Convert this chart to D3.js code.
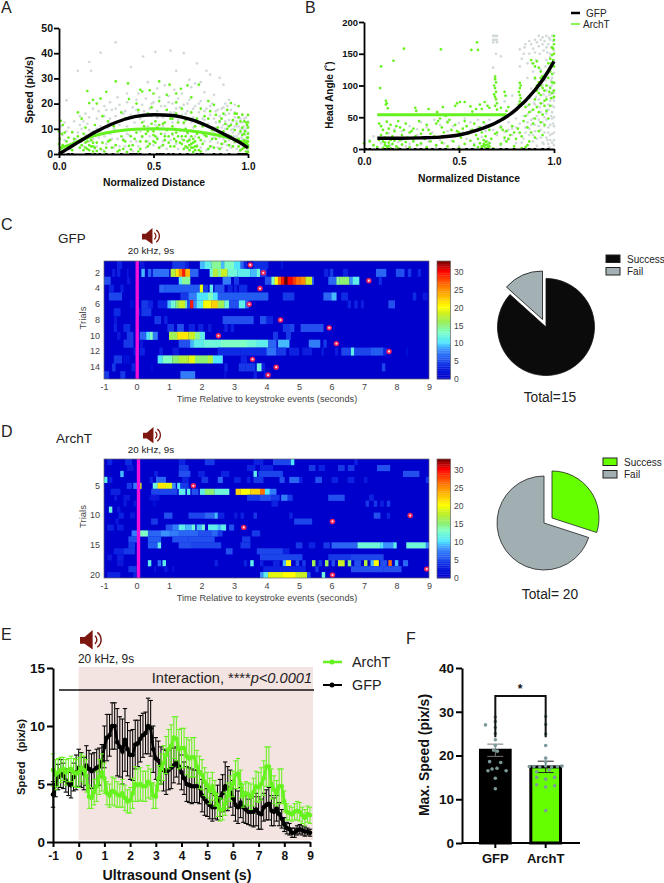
<!DOCTYPE html>
<html>
<head>
<meta charset="utf-8">
<script src="https://cdn.jsdelivr.net/npm/d3@7"></script>
<style>
html, body { margin: 0; padding: 0; background: #fff; }
svg { display: block; font-family: "Liberation Sans", Arial, sans-serif; }
</style>
</head>
<body>
<div id="chart"></div>
<script>
// panel A, speed vs normalized distance
var speedFitGfp = [[0,0],[.05,2.3],[.1,4.6],[.2,9],[.3,12.5],[.4,14.8],[.5,15.6],[.6,15.3],[.7,13.6],[.8,10.6],[.9,6.8],[.96,4.4],[1,2.4]];
var speedFitArch = [[0,2.2],[.05,3.4],[.1,5],[.2,7.5],[.3,9],[.4,9.8],[.5,10],[.6,9.8],[.7,9.1],[.8,8],[.9,6.4],[1,4]];
var speedGray = [[.3,44.3],[.22,40.2],[.445,38.7],[.51,40.5],[.59,41],[.66,40],[.73,36],[.16,36.5],[.1,33],[.17,33],[.38,34.5],[.62,33],[.78,33],[.8,31.5],[.85,30.2],[.87,27.5],[.69,29.5],[.72,28],[.75,28.5],[.04,21.3],
[.47,28.5],[.52,26],[.56,27.2],[.61,25.5],[.65,24],[.7,26.5],[.77,24.5],[.82,23.5],[.9,21.5],[.93,19.5],[.88,20],[.42,24],[.36,24],[.31,22.5],[.27,20.5],[.24,19],[.18,18],[.14,16],[.11,15],[.08,13],[.03,12.5],[.01,11],[.05,10.5],[.02,7.5],[.07,8.5],[.09,6],
[.12,10],[.15,12],[.17,8.5],[.2,14],[.22,11],[.24,15],[.26,12.5],[.28,17.5],[.3,15],[.32,19.5],[.33,13.5],[.35,17],[.36,20.5],[.38,15.5],[.39,18.5],[.41,21.5],[.42,16.5],[.44,19.5],[.45,13],[.46,22],[.48,18],[.49,15],[.5,20.5],[.52,17],[.53,22.5],[.55,14.5],[.56,19],[.58,23],[.59,16.5],[.6,20],[.62,18],[.63,22],[.65,15.5],[.66,19.5],[.68,17],[.69,21.5],[.71,14.5],[.72,19],[.74,16.5],[.75,21],[.77,13.5],[.78,18],[.8,15.5],[.81,20],[.83,12.5],[.84,17.5],[.86,14],[.87,18.5],[.89,11.5],[.9,16],[.92,13],[.93,16.5],[.95,11],[.96,14],[.98,9.5],[.99,12.5],
[.13,3],[.16,5],[.19,2],[.21,6.5],[.23,1.5],[.25,4],[.27,8],[.29,2.5],[.31,6],[.33,9.5],[.35,3],[.37,7.5],[.39,1.2],[.41,5],[.43,9],[.46,2.5],[.48,7],[.5,3.5],[.53,10],[.55,5],[.57,2],[.6,7.5],[.62,4],[.64,9.5],[.67,2.5],[.69,6],[.71,10.5],[.73,3.5],[.76,8],[.78,1.5],[.8,5],[.82,9],[.84,2.5],[.85,6.5],[.86,10.5],[.87,4],[.88,8],[.89,1.5],[.9,5.5],[.91,9.5],[.92,3],[.925,7],[.93,11],[.94,2],[.945,5],[.95,8],[.955,1],[.96,4],[.965,6.5],[.97,10],[.975,2.5],[.98,5.5],[.985,7.5],[.99,3.5],[.995,6],[1,1.5],[1,8.5],[.97,12.5],[.94,13],[.91,12],[.88,13],[.85,12.5],
[.02,3],[.03,5.5],[.04,9],[.06,2],[.08,5],[.1,8.5],[.11,11.5],[.13,13],[.16,14.5],[.18,6],[.2,10],[.21,17],[.23,8],[.25,17.5],[.27,14],[.29,10],[.3,18],[.32,11.5],[.34,16],[.36,11],[.37,14.5],[.4,12.5],[.41,17.5],[.43,14],[.45,17],[.47,11],[.49,20],[.51,11.5],[.52,14.5],[.54,19],[.55,11],[.57,15.5],[.58,20.5],[.6,12.5],[.61,16.5],[.63,13.5],[.64,18.5],[.66,12],[.67,16],[.68,20],[.7,12.5],[.71,18],[.73,12.5],[.74,20],[.76,14],[.77,17],[.79,12],[.8,19],[.82,14],[.83,17],[.85,15],[.86,18],[.87,11.5],[.88,15.5],[.89,19],[.9,13.5],[.91,17.5],[.92,10],[.93,14.5],[.94,11],[.95,14.5],[.96,10],[.96,12.5],[.97,8],[.98,11],[.98,14],[.99,10],[.99,14.5],[1,11],[1,13],[.97,6],[.96,8.5],[.94,7],[.93,4.5],[.92,8.5],[.91,2.5],[.9,7.5],[.89,3.5],[.88,10],[.87,6],[.86,2.5],[.85,8.5],[.84,4.5],[.83,10.5],[.82,6.5],[.81,3],[.79,8],[.77,5],[.75,2.5],[.72,7],[.7,4],[.68,8],[.65,6],[.63,2],[.61,10],[.59,5.5],[.56,8],[.54,3],[.52,6.5],[.49,9.5],[.47,5],[.44,6.5],[.42,3],[.4,9.5],[.38,5],[.36,8],[.34,6],[.32,3],[.3,9.5],[.28,6],[.26,10.5],[.24,7],[.22,9],[.2,3],[.18,9],[.16,9.5],[.14,7.5],[.12,5]];
var speedArch = [[.3,28.8],[.365,28],[.53,28.8],[.585,27.5],[.15,25],[.43,25.5],[.44,24.8],[.48,25.3],[.5,24],[.25,24.7],[.62,24],[.645,25.9],[.68,27.2],[.74,27.5],[.7,22.5],[.22,22],[.18,21.5],[.2,20],[.16,20.2],[.57,23.5],[.37,21.8],[.41,20],[.53,21],[.62,20.5],[.79,21],[.82,19.5],[.91,20.2],[.95,19],[.94,16],[.97,15.6],[1,15.5],[.99,12.5],[.97,10.5],[.1,16.5],[.01,13.2],[.02,11.5],[0,9],[.03,8.5],[.07,8.7],[.05,6.5],
[.12,14],[.14,10.5],[.19,11.5],[.23,15],[.26,13],[.29,11],[.33,16.5],[.35,14],[.39,14.5],[.42,17.5],[.44,12.5],[.47,16],[.49,18.5],[.51,13],[.54,15.5],[.57,17.5],[.59,14],[.62,16],[.65,18],[.67,13.5],[.7,16.5],[.73,14],[.75,18],[.77,15],[.8,17],[.83,15.5],[.85,13],[.87,16],[.89,17.5],[.92,13.5],[.95,14.5],[.9,11],[.84,10.5],[.78,11.5],[.72,11],
[.09,4],[.11,2.5],[.12,6],[.13,1.5],[.14,4.5],[.15,7],[.15,2],[.16,3.5],[.17,5.5],[.18,1],[.18,3],[.19,7.5],[.2,4.5],[.22,2],[.24,1],[.26,5],[.28,2.5],[.31,1],[.33,7],[.34,2],[.35,5],[.36,.8],[.37,3.2],[.38,1.8],[.4,6],[.41,8.5],[.43,2],[.44,7],[.45,11],[.46,5],[.47,9],[.48,4],[.49,12],[.5,7.5],[.51,4.5],[.52,10.5],[.53,2.5],[.54,8],[.55,12],[.56,5.5],[.57,9.5],[.58,7],[.59,3],[.6,11],[.61,6],[.62,8.5],[.63,12.5],[.64,4.5],[.65,7],[.66,2],[.67,10],[.68,5],[.69,3.5],[.69,1.5],[.7,7],[.7,2.5],[.71,4.5],[.71,.8],[.72,3],[.73,8],[.74,1.5],[.75,5.5],[.76,11],[.78,7],[.8,3],[.81,9.5],[.83,6],[.85,2],[.86,8.5],[.88,5],[.89,10],[.91,7],[.92,3],[.93,9.5],[.95,6],[.96,1.5],[.97,4],[.97,7.5],[.98,2.5],[.98,5.5],[.985,9],[.99,1],[.99,3.5],[.995,6.5],[1,.8],[1,2.5],[1,5],[1,8],[1,10.5],[.995,11.5],[.98,13],
[0,4],[.005,6],[.01,2],[.015,8],[.02,3.5],[.03,1.5],[.04,5],[.06,3],[.07,1.5],[.08,6],[.1,7],[.11,5],[.12,3.5],[.13,8],[.14,2.5],[.15,5],[.16,1.5],[.17,3],[.17,7],[.18,4.5],[.19,2.5],[.2,1.2],[.21,9],[.23,4.5],[.25,2.5],[.27,5.5],[.3,3.5],[.32,1.5],[.34,5.5],[.38,7],[.39,3.5],[.42,1],[.43,5],[.46,8],[.47,3],[.5,5],[.5,9],[.51,7],[.52,6],[.53,11.5],[.55,3.5],[.56,7],[.58,4.5],[.6,8],[.61,3],[.62,5],[.63,7],[.64,9.5],[.65,4],[.66,5.5],[.67,3],[.67,7],[.68,2.5],[.68,8.5],[.69,5.5],[.7,4],[.71,2.5],[.71,6],[.72,1.5],[.72,5],[.73,3],[.74,6.5],[.75,1],[.76,4],[.77,7.5],[.79,2],[.81,6],[.82,2.5],[.84,7.5],[.86,4],[.87,9],[.88,12],[.9,3.5],[.91,11.5],[.93,5],[.94,12],[.95,3],[.96,9],[.97,2],[.98,8],[.99,5],[1,3.5],[1,6.5],[1,12.5],[.96,13],[.93,16],[.86,14],[.79,14],[.74,12.5],[.66,12.5],[.6,14],[.56,12.5]];
var speedBaseline = [.05,.07,.145,.15,.16,.165,.19,.215,.25,.285,.33,.38,.395,.41,.43,.48,.52,.535,.55,.58,.605,.64,.68,.73,.75,.76,.82,.855,.9,.95,.96,.975,.99];

// panel B, head angle vs normalized distance
var angleFitGfp = [[.07,17],[.2,17],[.3,17.5],[.4,18.7],[.5,22],[.6,30],[.7,42],[.8,62],[.9,93],[.95,113],[1,138]];
var angleFitArch = [[.07,54],[.3,54],[.5,54],[.75,54]];
var angleGray = [[.68,178],[.69,178],[.7,178],[.68,172],[.69,172],[.7,172],[.68,168],[.7,168],[.72,146],[.68,128],[.695,150],[.82,157],[.84,150],[.83,142],[.85,165],[.87,170],[.88,165],[.89,158],[.9,172],[.91,168],[.92,178],[.93,172],[.94,176],[.95,170],[.96,178],[.97,165],[.98,172],[.99,178],[.985,160],[.965,152],[.945,155],[.925,150],[.905,140],[.885,135],[.96,140],[.98,145],[.99,130],[1,155],[1,170],[.93,125],[.95,118],[.97,122],[.99,112],[.9,110],[.86,112],[.88,95],[.92,95],[.94,100],[.96,92],[.98,98],[1,105],[.78,84],[.74,75],
[.13,25],[.16,31],[.2,28],[.24,36],[.28,31],[.3,42],[.33,34],[.37,46],[.4,38],[.44,44],[.47,36],[.5,41],[.53,48],[.56,42],[.6,46],[.64,38],[.66,46],[.7,44],[.73,50],[.76,42],[.8,48],[.84,52],[.88,60],[.9,70],[.92,78],[.94,72],[.96,82],[.98,76],[1,88],[.86,42],[.89,48],[.91,52],[.93,58],[.95,50],[.97,62],[.99,58],[1,66],[.03,14],[.05,20],[.09,9],[.11,16],
[.14,6],[.18,11],[.22,4],[.26,14],[.3,7],[.34,12],[.38,3],[.42,9],[.46,13],[.5,5],[.54,16],[.58,8],[.62,19],[.66,11],[.7,22],[.72,6],[.74,27],[.76,15],[.78,32],[.8,9],[.82,25],[.84,16],[.85,34],[.86,6],[.87,22],[.88,38],[.89,12],[.9,28],[.91,5],[.92,36],[.93,18],[.94,42],[.945,8],[.95,26],[.96,46],[.965,14],[.97,34],[.975,3],[.98,22],[.985,52],[.99,10],[.995,40],[1,26],[1,6],
[.17,2],[.2,14],[.24,8],[.28,22],[.32,18],[.36,26],[.4,14],[.44,28],[.48,20],[.52,26],[.56,30],[.6,34],[.64,28],[.68,30],[.72,36],[.74,14],[.76,30],[.78,22],[.8,34],[.82,40],[.83,10],[.85,26],[.86,54],[.87,32],[.88,46],[.89,22],[.9,38],[.91,16],[.92,46],[.93,30],[.94,10],[.95,36],[.96,18],[.96,56],[.97,8],[.97,26],[.97,70],[.98,14],[.98,38],[.98,86],[.99,24],[.99,48],[.99,68],[.99,100],[1,14],[1,36],[1,50],[1,76],[1,120],[1,140],[.995,80],[.995,92],[.985,108],[.975,85],[.965,100],[.955,108],[.945,86],[.935,110],[.925,66],[.915,100],[.905,82],[.895,72],[.875,80],[.86,68],[.845,160],[.82,130],[.9,152],[.92,162],[.94,165],[.96,160],[.98,150],[.995,170],[.975,175],[.955,130],[.89,122],[.87,150],[.86,135]];
var angleArch = [[.21,158],[.405,157],[.595,168],[.565,156],[.6,156],[.155,139],[.09,130],[.085,96],[.115,76],[.12,72],[.115,70],[.125,64],[.27,65],[.275,60],[.34,63],[.385,58],[.415,66],[.49,72],[.505,74],[.53,74],[.48,68],[.56,67],[.59,63],[.61,70],[.635,74],[.65,68],[.62,63],[.57,59],[.66,65],
[.69,114],[.69,110],[.695,105],[.685,100],[.69,96],[.695,90],[.685,86],[.69,82],[.695,78],[.7,72],[.69,68],[.7,62],[.74,90],[.745,84],[.72,65],[.75,60],[.76,66],[.82,104],[.825,100],[.82,96],[.815,90],[.82,85],[.825,80],[.82,75],[.815,70],[.84,72],[.85,66],[.87,70],
[.88,140],[.89,135],[.9,130],[.91,138],[.92,128],[.93,122],[.94,115],[.9,112],[.92,105],[.93,100],[.94,108],[.91,92],[.93,85],[.95,92],[.96,100],[.97,112],[.98,122],[.985,135],[.99,148],[.995,158],[1,165],[1,172],[1,178],[.995,140],[.99,118],[.98,96],[.99,88],[1,104],[1,82],[.96,78],[.95,68],[.93,72],[.91,66],[.92,58],[.94,54],[.96,60],[.97,48],[.98,68],[.89,62],[.9,48],[.93,42],[.95,38],[.92,28],[.94,22],[.9,18],[.87,12],[.86,6],[.85,3],
[.08,40],[.09,36],[.1,30],[.12,43],[.12,25],[.14,38],[.16,28],[.18,44],[.19,34],[.2,22],[.22,40],[.24,26],[.26,32],[.29,44],[.31,30],[.33,38],[.35,24],[.38,40],[.4,48],[.41,34],[.43,52],[.44,42],[.46,30],[.48,38],[.5,26],[.52,32],[.54,36],[.57,30],[.59,22],[.61,34],[.63,42],[.66,30],[.68,38],[.7,26],[.72,34],[.74,18],[.75,28],[.77,22],[.78,36],[.8,16],[.82,26],[.84,44],[.86,34],[.88,26],
[0,9],[.03,12],[.05,6],[.07,3],[.08,14],[.1,2],[.11,10],[.13,5],[.14,1],[.15,8],[.16,13],[.17,4],[.18,1.5],[.2,7],[.22,11],[.24,3],[.26,12],[.28,6],[.3,9],[.33,3],[.35,12],[.38,6],[.41,10],[.44,4],[.47,12],[.5,2],[.53,8],[.56,13],[.58,6],[.6,3],[.61,9],[.62,1.5],[.63,5],[.64,11],[.64,2],[.65,7],[.65,1],[.66,4],[.68,1],[.72,8],[.75,12],[.79,4],[.83,1.5],
[.09,22],[.11,18],[.13,32],[.15,20],[.17,36],[.19,14],[.21,30],[.23,18],[.25,28],[.27,20],[.3,24],[.32,16],[.34,30],[.37,20],[.39,44],[.42,26],[.45,46],[.46,20],[.49,28],[.51,18],[.53,44],[.55,24],[.58,40],[.6,16],[.62,26],[.64,20],[.67,16],[.69,24],[.71,44],[.73,30],[.76,16],[.79,26],[.81,32],[.83,20],[.85,52],[.87,58],[.89,40],[.9,78],[.91,100],[.92,88],[.93,112],[.94,96],[.95,76],[.96,120],[.97,135],[.975,90],[.98,142],[.985,80],[.99,105],[.99,160],[1,130],[1,150],[1,92],[.62,4],[.63,8],[.63,14],[.64,6],[.645,12],[.655,3],[.66,9],[.12,4],[.13,10],[.125,1],[.14,14],[.11,6],[.1,12]];
var angleBaseline = [.01,.03,.07,.11,.13,.15,.19,.23,.27,.3,.33,.36,.4,.43,.47,.5,.54,.57,.62,.65,.68,.72,.75,.79,.84,.87,.9,.94,.97];

// panels C and D: [from s, to s, speed] per trial
var trialsGfp = [
 [[-.6,-.45,3],[.1,.25,2],[1.1,1.5,4],[1.5,1.6,3],[1.95,2.1,9],[2.1,2.3,11],[2.3,2.6,14],[2.6,2.7,9],[2.7,3,13],[3,3.2,10],[3.2,3.3,6],[3.3,3.4,3],[3.6,4.05,3.5],[4.45,4.5,2]],
 [[-.75,-.65,2.5],[-.6,-.5,3],[-.3,-.25,2],[.15,.25,9],[.35,.45,6],[.5,1,6.5],[1.05,1.2,17],[1.2,1.3,21],[1.3,1.4,25],[1.4,1.5,29],[1.5,1.65,23],[1.65,1.9,6],[2.25,2.35,12],[2.35,2.5,17],[2.5,2.6,14],[2.6,2.8,18],[2.8,3.1,12],[3.1,3.5,11],[3.5,3.7,9],[3.7,3.8,12],[3.8,4,4],[5.77,5.9,3],[5.95,6.05,4],[6.35,6.5,3],[7.37,7.68,6],[7.98,8.24,5],[8.35,8.45,4],[8.65,8.75,3]],
 [[-1,-.8,5],[-.3,-.2,2],[1.3,1.4,11],[1.4,1.65,14],[2.65,2.9,7],[3,3.15,4],[3.95,4.15,5],[4.15,4.25,13],[4.25,4.35,20],[4.35,4.45,26],[4.45,4.55,29],[4.55,4.65,33],[4.65,4.8,30],[4.8,4.9,28],[4.9,5.05,26],[5.05,5.2,25],[5.2,5.4,18],[5.4,5.45,6],[5.9,6.15,6],[6.15,6.25,14],[6.25,6.55,15],[6.55,6.65,8],[6.65,6.85,11],[7.45,7.55,3.5]],
 [[-.85,-.7,3],[-.5,-.4,2.5],[.7,.85,6],[.85,1.9,5.5],[1.9,1.95,6],[1.95,2.05,19],[2.05,2.2,4],[2.25,2.35,11],[2.4,2.7,5],[2.8,2.95,3],[3,3.1,3],[3.15,3.4,3.5]],
 [[-.85,-.45,4.5],[1.35,1.6,4],[1.6,1.85,7],[1.85,2.2,10],[2.2,2.35,13],[2.35,2.5,10],[2.5,4.05,5.5],[4.5,4.85,4],[5.75,6,6],[6,6.15,9],[6.3,6.5,3.5],[8.5,8.6,3.5],[8.8,8.95,2]],
 [[-.2,-.1,1.5],[.15,.35,4],[.35,.5,3],[.65,.95,3],[.95,1.05,9],[1.05,1.2,12],[1.2,1.3,15],[1.3,1.5,18],[1.5,1.55,13],[1.55,1.65,5],[1.65,1.75,29],[1.75,1.85,8],[1.85,2.05,11],[2.05,2.3,20],[2.3,2.5,22],[2.5,2.7,16],[2.7,2.85,12],[2.85,3.15,5],[3.15,3.35,11],[3.35,3.45,6],[6.5,6.6,3],[6.7,6.8,3],[6.9,7,2.5],[7.75,7.95,5]],
 [[-.7,-.5,3.5],[0,.1,3],[.15,.45,4]],
 [[-.7,-.6,2],[.55,.75,4],[.85,.95,3],[2.65,3.6,5],[3.8,4,5],[4,4.2,3]],
 [[-.7,-.6,3],[-.4,-.2,3.5],[.95,1.15,4],[1.25,1.45,5],[1.6,1.8,3],[1.9,2.05,3],[2.2,2.3,2],[2.7,2.8,3],[2.9,3,3],[4.5,4.7,4],[4.7,4.85,4.5],[5.05,5.75,5]],
 [[-.6,-.5,2],[-.3,-.1,4],[.1,.3,6],[.3,.4,10],[.4,.5,13],[.5,.65,7],[1,1.25,16],[1.25,1.6,21],[1.6,1.8,18],[1.8,1.95,14],[1.95,2.1,11],[4.2,4.35,4],[4.6,4.75,4]],
 [[-.4,-.1,4],[.1,.2,2],[1.3,1.65,5],[1.65,1.75,9],[1.75,2.05,11],[2.05,2.6,12],[2.6,3.4,13],[3.4,3.7,12],[3.7,4.05,11],[4.05,4.3,6],[4.35,4.7,9],[5.3,5.65,7],[5.75,5.85,4]],
 [[-.1,0,2],[.1,.25,3],[.7,.8,3],[1.1,1.3,2],[2.5,3.2,3.5],[3.2,4,3.5],[4,4.3,6.5],[4.3,4.6,4],[4.7,5,3],[5.1,5.4,2.5],[5.7,5.75,3],[6.1,6.2,2.5],[6.3,6.6,4.5],[6.6,6.7,11],[6.7,7.2,4.5],[7.2,7.6,5.5],[7.6,7.7,3],[8.3,8.35,1.5]],
 [[-.7,-.45,4],[-.4,-.2,1.5],[.65,.8,10],[.8,1.1,13],[1.1,1.3,15],[1.3,1.6,17],[1.6,1.8,19],[1.8,2.2,15],[2.2,2.35,17],[2.35,2.65,10],[3.2,3.4,3],[3.55,3.6,2]],
 [[-.75,-.65,4],[-.15,-.05,3],[.45,.5,1.5],[2.7,2.8,3],[3.15,3.35,4],[3.35,3.65,4],[3.7,3.85,12],[3.85,3.95,3],[7.55,7.65,4.5]],
 [[-1,-.85,4],[-.5,-.35,4],[1.35,1.8,7],[2.7,2.75,2],[3.6,3.7,3],[3.9,4,2]]
];
var trialsArch = [
 [[-.9,-.75,3],[-.35,-.15,3.5],[1.3,1.5,3],[2.1,2.4,4],[3.6,3.9,3],[4.2,4.75,4.5],[4.75,4.85,10],[6.7,6.8,3]],
 [[-.3,-.1,2],[1.3,1.6,4],[3.4,3.65,3],[3.8,4.2,3],[5.3,5.5,4],[5.6,5.8,3],[6.2,6.4,4],[6.5,6.7,4],[7.4,7.8,5]],
 [[-.5,-.4,9],[.55,.65,3],[1.3,1.65,5],[1.9,2.1,3],[2.6,2.85,3],[3.6,3.7,11],[3.75,4.5,4.5],[8.2,8.7,5]],
 [[-1,-.9,11],[-.85,-.75,3],[.4,.5,3],[.6,.9,6],[1.4,1.6,3],[2,2.2,4],[2.5,2.65,6],[3,3.2,3],[3.4,3.5,3],[3.6,3.9,4],[4.4,4.55,5],[4.7,5,6],[5,5.1,3],[5.5,5.7,5],[6,6.2,3],[6.5,6.7,3],[7,7.1,2],[8.9,9,4]],
 [[-.3,-.15,4],[-.1,.1,7],[.1,.15,18],[.5,.65,12],[.65,.9,21],[.9,1.1,19],[1.1,1.2,8],[1.25,1.35,10],[1.35,1.6,4]],
 [[-.8,-.5,3],[.45,1.25,4.5],[1.3,1.5,11],[1.55,1.65,11],[1.7,1.9,5],[1.95,2.1,11],[2.1,2.4,15],[2.4,2.85,12],[3.05,3.2,22],[3.2,3.5,20],[3.5,3.8,22],[3.8,3.95,26],[3.95,4.1,10],[4.1,4.3,7]],
 [[-.7,-.6,2],[-.4,-.2,2],[.4,.7,2],[3.4,3.8,4],[3.8,4.15,5],[4.15,4.4,4],[4.45,4.65,7],[4.65,4.8,4],[5.9,6.4,5],[7.15,7.3,3]],
 [[-.4,-.3,2],[-.1,0,2],[.5,.6,1.5],[4.15,4.35,3],[7.05,7.15,4],[7.3,7.4,4],[7.5,7.6,3],[7.7,7.8,4]],
 [[-.85,-.75,12],[-.6,-.5,2]],
 [[-.55,-.4,3],[-.2,-.05,2],[.85,1.1,5],[1.6,2.1,4.5],[2.1,2.4,6],[2.4,2.5,9],[2.5,2.7,3],[3,3.1,2],[3.2,3.3,3],[3.6,3.7,4],[4.7,4.8,3],[7.3,7.5,5],[7.7,7.8,3]],
 [[-.65,-.55,2],[.45,.65,4],[4.85,5.4,4.5]],
 [[-.9,-.7,3],[-.6,-.4,2.5],[.9,1.1,5],[1.1,1.3,7],[1.3,1.5,11],[1.5,1.7,9],[1.7,1.8,12],[1.85,2,9],[2,2.1,12],[2.2,2.5,11],[2.5,2.6,9],[2.6,2.75,11],[2.85,3,5]],
 [[-.15,.05,7],[.1,.35,13],[.35,.75,6],[.75,1,8],[1,1.3,7],[1.3,1.9,6],[1.9,2.3,5],[2.3,2.5,6],[2.5,2.65,4],[3.55,3.8,4]],
 [[-.25,.05,5],[.35,.75,5.5],[1.1,1.6,5],[1.6,2.4,5],[3.25,3.5,4]],
 [[-.25,-.05,4],[.35,.65,5.5],[.65,.75,11],[1.3,1.7,5],[1.7,2.6,4.5],[3.2,3.5,4],[4.9,5.1,4],[5.3,5.5,3],[5.75,5.95,4],[6,6.8,6],[6.8,7.5,12],[7.5,7.6,10],[7.6,7.9,8],[7.9,8,11],[8.3,8.9,12],[8.9,9,8]],
 [[-.7,-.4,3],[-.4,-.05,4],[2.75,2.95,5],[3.7,4.5,4.5],[4.5,4.7,3]],
 [[-.9,-.75,2],[-.6,-.4,2.5],[3.8,5.1,4.5],[5.9,6.6,4],[6.6,7.6,4.5]],
 [[-.6,-.4,2],[.35,.45,11],[.65,.75,6],[.8,.9,11],[2.4,2.5,3],[3.3,3.4,3],[3.5,3.6,11],[3.8,3.9,3],[4.2,4.4,3],[4.5,4.6,9],[4.6,4.75,20],[4.9,5,5],[5.1,5.2,4],[5.4,5.5,16],[5.6,5.7,4],[5.8,5.9,16],[6,6.1,5],[6.2,6.4,18],[6.5,6.6,15],[6.7,6.9,5],[7,7.1,17],[7.2,7.3,9],[7.3,7.45,20],[7.5,7.7,5],[7.75,7.85,26],[7.95,8.05,9],[8.2,8.35,6]],
 [[-.25,0,4],[.55,.6,2],[.85,.95,2],[1.1,1.15,2],[3.9,5,3],[5,5.2,3],[5.5,5.6,4],[6.6,7.6,5],[7.6,8.15,5]],
 [[-.9,-.5,3],[-.1,0,3],[3.8,3.9,8],[3.9,4.05,11],[4.05,4.5,19],[4.5,4.9,20],[4.9,5.25,18],[5.25,5.35,5],[5.7,5.8,12]]
];
// keystroke events: [trial, seconds]
var eventsGfp = [[1,3.5],[2,3.9],[3,7.15],[4,3.8],[6,3.47],[8,4.43],[9,5.93],[10,2.52],[11,6.15],[12,7.77],[13,3.57],[14,4.3],[15,4.05]];
var eventsArch = [[5,1.75],[10,8.42],[11,6.03],[12,3.3],[19,8.93],[20,6.03]];
var colorStops = [0,3,5,8,10,13,15,18,20,25,30,33];
var colorValues = ["#0000cc","#0a20e0","#2050ee","#3a90ff","#4fe4ff","#80ffc4","#8cf070","#c8f020","#ffff00","#ff8c00","#ff0000","#640000"];
var colorTicks = [0,5,10,15,20,25,30];
var timeTicks = [-1,0,1,2,3,4,5,6,7,8,9];

// pies
var pieGfp = [{name: "Success", count: 13}, {name: "Fail", count: 2}];
var pieArch = [{name: "Success", count: 6}, {name: "Fail", count: 14}];

// panel E
var onsetTimes = d3.range(-10, 91).map(function(d) { return d / 10; });
var onsetGfp = [4.1,4.9,5.6,5.9,5.7,5.3,5,4.9,5.6,6,6.4,6.2,5.9,6.6,6.3,6.1,6.2,6.4,6.5,7,8.2,9,9.2,10,10,8.6,8.2,7.8,8.8,8,7.5,7.5,8.4,8.5,8.9,9.2,9.4,10,9.8,8,7.2,7,6.6,6.2,6,6.2,6.4,6.6,6.9,6.5,6,5.5,5,4.9,4.8,4.8,4.8,4.7,4,3.7,3.4,3.2,3,3,3.4,3.8,4.2,4.8,4.6,4.6,3.8,3.2,3,3.4,3,2.8,2.6,2.6,2.6,2.8,2.5,2.4,3,3.2,3.3,2.7,2.6,2.9,2.4,2,1.5,1.2,1.1,.8,.8,1,1.1,1,.9,.9,.8];
var onsetGfpErr = [1.1,1,1.1,1.2,1.1,1,1,1.1,1.2,1.5,1.6,1.5,1.4,1.7,1.6,1.5,1.5,1.6,1.6,1.4,1.8,2,1.8,2,2,2.9,2.6,2.8,2.7,2.3,2.1,2.2,2.1,2,2,1.9,1.8,2.4,2.4,2,1.8,1.7,1.6,1.8,1.9,1.7,1.8,1.5,1.3,1.5,1.5,1.4,1.5,1.5,1.5,1.4,1.4,1.4,1.4,1.4,1.2,1.2,1.2,1,1.5,1.6,1.6,2.1,1.9,1.6,1.5,1.4,1.4,1.3,1.3,1.2,1.1,1.2,1.3,1.4,1.4,1.3,1.2,1.3,1.4,1.3,1.2,1.1,1,.8,.6,.5,.5,.4,.4,.4,.4,.4,.4,.3,.3];
var onsetArch = [6.2,5.8,6,6.2,6.3,6,6.2,6.3,6,5.9,6,6.4,6.2,5.7,3.9,3.8,4.3,4.8,5.6,6,5.5,4.2,4,4.4,4.3,4.1,4,4.2,3.8,3.5,3.6,4.2,5,4.9,5,4.8,4.8,5.2,5,4,3.9,5.5,6.3,6.8,7.5,8,8.3,9,8.9,8,8.1,8.1,7.4,7.2,7.3,7.3,6.5,6,5.8,5.2,4.9,4.4,4.8,4.2,3.2,2.8,2.8,3.3,4,4.6,5,5.8,5.9,5,4,4.2,4.1,3.9,4.3,4.8,4.7,5,5.5,6.5,6.5,5,4.5,4.2,4.8,4.8,3.5,2.6,2.5,2.4,2.6,2.7,2.6,2.3,2.1,2.4,2.3];
var onsetArchErr = [1.4,1.3,1.2,1.1,1,1.1,1,1.1,1.2,1.2,1.3,1.2,1.2,1.4,1,.9,1.1,1.3,1.5,1.6,1.3,1,1,1.2,1.2,1.1,1,1.2,1.1,1,1.1,1.3,1.5,1.4,1.4,1.3,1.3,1.4,1.3,1.1,1,1.1,1.3,1.5,1.6,1.7,1.8,1.8,1.9,1.7,1.7,1.7,1.6,1.6,1.7,1.7,1.4,1.4,1.3,1.2,1.1,1.1,1.2,1.1,1,1,.9,1,1.1,1.1,1.1,1.2,1.3,1.2,1,1,1,1.1,1.2,1.3,1.3,1.4,1.5,1.7,1.7,1.3,1.2,1.1,1.5,1.5,.9,.7,.6,.6,.7,.8,.8,.7,.7,.7,.7];

// panel F
var maxGroups = ["GFP", "ArchT"];
var maxMeans = [21.2, 17.4];
var maxErrs = [1.4, 1.3];
// [jitter as share of the bar width, value]
var maxDotsGfp = [[0,28.8],[0,27.8],[-.6,27],[0,26.4],[0,25],[0,23.6],[0,22.3],[-.1,21.2],[.12,21],[-.35,18.6],[.33,18.4],[-.45,16.5],[-.2,16.9],[.1,17.1],[.66,16.5],[0,14.8],[0,12.4]];
var maxDotsArch = [[0,28.9],[0,27.1],[0,24.9],[0,22.3],[0,19.4],[0,18.5],[-1,17.5],[-.72,17.5],[-.36,17.4],[0,17.6],[.36,17.4],[.72,17.5],[1,17.6],[-.55,16.3],[.22,16.7],[-.55,15],[0,14.6],[.55,15],[-.55,13.3],[0,12.8],[.55,13.1],[0,7.4]];

var green = "#66f21e", gray = "#d2d9d9";

var svg = d3.select("#chart").append("svg").attr("width", 664).attr("height", 883);

var color = d3.scaleLinear().domain(colorStops).range(colorValues).clamp(true);

function label(x, y, str, size, weight, anchor, fill, rotate) {
    var t = svg.append("text")
        .attr("x", x)
        .attr("y", y)
        .attr("font-size", size)
        .attr("font-weight", weight || "normal")
        .attr("text-anchor", anchor || "start")
        .attr("fill", fill || "#111")
        .text(str);
    if (rotate) t.attr("transform", "rotate(-90 " + x + " " + y + ")");
    return t;
}

// thick graphpad style axis
function thickAxis(gen, x, y, width, size) {
    var g = svg.append("g").attr("transform", "translate(" + x + "," + y + ")").call(gen);
    g.selectAll("path").attr("stroke", "#000").attr("stroke-width", width);
    g.selectAll("line").attr("stroke", "#000").attr("stroke-width", width);
    g.selectAll("text").attr("font-size", size).attr("font-weight", "bold").attr("font-family", "Liberation Sans").attr("fill", "#111");
    return g;
}

function scatterPanel(o) {
    var x = d3.scaleLinear().domain([0, 1]).range(o.xRange);
    var y = d3.scaleLinear().domain(o.yDomain).range(o.yRange);
    var dots = function(data, fill, r) {
        svg.append("g").selectAll("circle").data(data).enter().append("circle")
            .attr("cx", function(d) { return x(d[0]); })
            .attr("cy", function(d) { return y(d[1]); })
            .attr("r", r)
            .attr("fill", fill);
    };
    var fit = d3.line().x(function(d) { return x(d[0]); }).y(function(d) { return y(d[1]); }).curve(d3.curveMonotoneX);
    dots(o.gray, gray, 1.35);
    dots(o.arch, green, 1.35);
    svg.append("path").datum(o.fitArch).attr("d", fit).attr("fill", "none").attr("stroke", green).attr("stroke-width", 3);
    svg.append("g").selectAll("rect").data(o.base).enter().append("rect")
        .attr("x", function(d) { return x(d) - 1.3; })
        .attr("y", y(0) - 1)
        .attr("width", 2.6)
        .attr("height", 2)
        .attr("fill", "#000");
    svg.append("path").datum(o.fitGfp).attr("d", fit).attr("fill", "none").attr("stroke", "#000").attr("stroke-width", 3.4);
    thickAxis(d3.axisBottom(x).tickValues([0, .5, 1]).tickFormat(d3.format(".1f")).tickSize(4).tickSizeOuter(0).tickPadding(5), 0, o.yRange[0], 1.8, 10);
    thickAxis(d3.axisLeft(y).tickValues(o.yTicks).tickSize(5).tickSizeOuter(0).tickPadding(1), o.xRange[0], 0, 1.8, o.yFont);
}

function speaker(x, y, s) {
    var g = svg.append("g").attr("transform", "translate(" + x + "," + y + ") scale(" + s + ")");
    g.append("path").attr("d", "M0 6H4L11 0V17L4 12H0Z").attr("fill", "#7c1710");
    g.append("path").attr("d", "M13 5A4.5 4.5 0 0 1 13 12").attr("fill", "none").attr("stroke", "#7c1710").attr("stroke-width", 1.3);
    g.append("path").attr("d", "M15 2A8 8 0 0 1 15 15").attr("fill", "none").attr("stroke", "#7c1710").attr("stroke-width", 1.3);
}

function heatPanel(o) {
    var x = d3.scaleLinear().domain([-1, 9]).range([104, 429]);
    var trials = d3.range(1, o.rows.length + 1);
    var y = d3.scaleBand().domain(trials).range([o.top, o.bottom]);
    var clipId = "clip" + o.top;
    svg.append("clipPath").attr("id", clipId).append("rect")
        .attr("x", 104).attr("y", o.top).attr("width", 325).attr("height", o.bottom - o.top);
    var g = svg.append("g").attr("clip-path", "url(#" + clipId + ")");
    var inner = g.append("g").attr("filter", "url(#soft)");
    inner.append("rect").attr("x", 100).attr("y", o.top - 4).attr("width", 333).attr("height", o.bottom - o.top + 8).attr("fill", color(0));
    o.rows.forEach(function(row, i) {
        inner.append("g").selectAll("rect").data(row).enter().append("rect")
            .attr("x", function(d) { return x(d[0]); })
            .attr("y", y(i + 1))
            .attr("width", function(d) { return x(d[1]) - x(d[0]) + .2; })
            .attr("height", y.bandwidth() + .2)
            .attr("fill", function(d) { return color(d[2]); });
    });
    g.append("rect").attr("x", x(o.lineAt)).attr("y", o.top).attr("width", 3.4).attr("height", o.bottom - o.top).attr("fill", "#f010d8");
    var ev = g.append("g").selectAll("g").data(o.events).enter().append("g")
        .attr("transform", function(d) { return "translate(" + x(d[1]) + "," + (y(d[0]) + y.bandwidth() / 2) + ")"; });
    ev.append("circle").attr("r", 2.7).attr("fill", "#f0205a");
    ev.append("circle").attr("r", 1.1).attr("fill", "#ffdde5");
    svg.append("rect").attr("x", 104).attr("y", o.top).attr("width", 325).attr("height", o.bottom - o.top)
        .attr("fill", "none").attr("stroke", "#666").attr("stroke-width", .7);
    var xa = svg.append("g").attr("transform", "translate(0," + o.bottom + ")")
        .call(d3.axisBottom(x).tickValues(timeTicks).tickFormat(String).tickSize(0).tickPadding(5));
    var ya = svg.append("g").attr("transform", "translate(104,0)")
        .call(d3.axisLeft(y).tickValues(o.trialTicks).tickSize(0).tickPadding(4));
    [xa, ya].forEach(function(a) {
        a.select("path").remove();
        a.selectAll("text").attr("font-size", 9).attr("font-family", "Liberation Sans").attr("fill", "#444");
    });
    label(267, o.bottom + 23, "Time Relative to keystroke events (seconds)", 9.2, "normal", "middle", "#444");
    label(86, (o.top + o.bottom) / 2 - 2, "Trials", 9.5, "normal", "middle", "#444", true);

    // colorbar
    var cy = d3.scaleLinear().domain([0, 33]).range([o.bottom, o.top]);
    svg.append("g").selectAll("rect").data(d3.range(0, 33, .5)).enter().append("rect")
        .attr("x", 437)
        .attr("y", function(d) { return cy(d + .5); })
        .attr("width", 13.5)
        .attr("height", function(d) { return cy(d) - cy(d + .5) + .3; })
        .attr("fill", function(d) { return color(d); });
    svg.append("rect").attr("x", 437).attr("y", o.top).attr("width", 13.5).attr("height", o.bottom - o.top)
        .attr("fill", "none").attr("stroke", "#666").attr("stroke-width", .7);
    var ca = svg.append("g").attr("transform", "translate(450.5,0)")
        .call(d3.axisRight(cy).tickValues(colorTicks).tickSize(0).tickPadding(3.5));
    ca.select("path").remove();
    ca.selectAll("text").attr("font-size", 8.5).attr("font-family", "Liberation Sans").attr("fill", "#444");
}

function piePanel(o) {
    var arcs = d3.pie().value(function(d) { return d.count; }).sort(null).startAngle(o.start).endAngle(o.start + 2 * Math.PI)(o.data);
    var arc = d3.arc().innerRadius(0).outerRadius(o.r);
    svg.append("g").selectAll("path").data(arcs).enter().append("path")
        .attr("d", arc)
        .attr("transform", function(d) {
            var off = o.offsets[d.data.name];
            return "translate(" + (o.cx + off[0]) + "," + (o.cy + off[1]) + ")";
        })
        .attr("fill", function(d) { return o.colors[d.data.name]; })
        .attr("stroke", o.stroke)
        .attr("stroke-width", .8);
    o.data.forEach(function(d, i) {
        svg.append("rect")
            .attr("x", o.legendX).attr("y", o.legendY + i * 12.5).attr("width", 14).attr("height", 7.5)
            .attr("fill", o.colors[d.name]).attr("stroke", "#222").attr("stroke-width", 1);
        label(o.legendX + 21, o.legendY + 7.5 + i * 12, d.name, 10, "normal", "start", "#222");
    });
    label(o.totalX, o.totalY, o.total, 13.8, "normal", "middle", "#222");
}

var defs = svg.append("defs");
defs.append("filter").attr("id", "soft").append("feGaussianBlur").attr("stdDeviation", .55);

// panel letters
label(1, 13, "A", 16, "normal", "start", "#222");
label(305, 13, "B", 16, "normal", "start", "#222");
label(1, 230, "C", 16, "normal", "start", "#222");
label(1, 437, "D", 16, "normal", "start", "#222");
label(1, 640, "E", 16, "normal", "start", "#222");
label(406, 644, "F", 16, "normal", "start", "#222");

// A
scatterPanel({
    xRange: [59, 248], yDomain: [0, 50], yRange: [154, 28], yTicks: [0, 10, 20, 30, 40, 50], yFont: 10.5,
    gray: speedGray, arch: speedArch, base: speedBaseline, fitGfp: speedFitGfp, fitArch: speedFitArch
});
label(154, 186, "Normalized Distance", 10.4, "bold", "middle");
label(33, 90, "Speed (pix/s)", 10.8, "bold", "middle", "#111", true);

// B
scatterPanel({
    xRange: [364, 554], yDomain: [0, 200], yRange: [149, 22], yTicks: [0, 50, 100, 150, 200], yFont: 9.5,
    gray: angleGray, arch: angleArch, base: angleBaseline, fitGfp: angleFitGfp, fitArch: angleFitArch
});
label(469, 182, "Normalized Distance", 10.4, "bold", "middle");
label(333, 95, "Head Angle (\u02da)", 10, "bold", "middle", "#111", true);
svg.append("line").attr("x1", 571).attr("x2", 580).attr("y1", 13).attr("y2", 13).attr("stroke", "#000").attr("stroke-width", 2.5);
label(586, 17, "GFP", 10, "normal", "start", "#222");
svg.append("line").attr("x1", 571).attr("x2", 580).attr("y1", 24).attr("y2", 24).attr("stroke", green).attr("stroke-width", 1.5);
label(583, 28, "ArchT", 10, "normal", "start", "#222");

// C
label(58, 243, "GFP", 13.5, "normal", "start", "#222");
speaker(142, 228, .95);
label(151, 254, "20 kHz, 9s", 9.8, "normal", "middle", "#222");
heatPanel({rows: trialsGfp, events: eventsGfp, top: 261, bottom: 379, trialTicks: [2, 4, 6, 8, 10, 12, 14], lineAt: -.03});
piePanel({
    data: pieGfp, start: 0, r: 48.5, cx: 546, cy: 327, stroke: "#111",
    offsets: {Success: [0, 0], Fail: [-3.5, -7.5]},
    colors: {Success: "#0b0b0b", Fail: "#a3b1b5"},
    legendX: 606, legendY: 255, total: "Total=15", totalX: 550, totalY: 402
});

// D
label(56, 443, "ArchT", 13.5, "normal", "start", "#222");
speaker(143, 427, .95);
label(151, 453, "20 kHz, 9s", 9.8, "normal", "middle", "#222");
heatPanel({rows: trialsArch, events: eventsArch, top: 459, bottom: 578, trialTicks: [5, 10, 15, 20], lineAt: .01});
piePanel({
    data: pieArch, start: 0, r: 47, cx: 544, cy: 523, stroke: "#222",
    offsets: {Success: [8, -5], Fail: [0, 0]},
    colors: {Success: "#66ff00", Fail: "#a1aeb2"},
    legendX: 603, legendY: 458, total: "Total= 20", totalX: 550, totalY: 599
});

// E
(function() {
    var x = d3.scaleLinear().domain([-1, 9]).range([53, 310]);
    var y = d3.scaleLinear().domain([0, 15]).range([842, 668]);
    svg.append("rect").attr("x", x(0)).attr("y", 667).attr("width", 313 - x(0)).attr("height", 173).attr("fill", "#f4e4e1");
    speaker(80, 630, 1.15);
    label(78, 663, "20 kHz, 9s", 11.9, "normal", "start", "#222");
    var it = label(312, 683, "", 14.6, "normal", "end", "#222");
    it.append("tspan").text("Interaction, ****");
    it.append("tspan").attr("font-style", "italic").text("p<0.0001");
    svg.append("line").attr("x1", 59).attr("x2", 314).attr("y1", 690).attr("y2", 690).attr("stroke", "#111").attr("stroke-width", 1.3);

    var series = function(means, errs, col, r, lw) {
        var g = svg.append("g");
        var bars = g.selectAll("g").data(means).enter().append("g").attr("transform", function(d, i) { return "translate(" + x(onsetTimes[i]) + ",0)"; });
        bars.append("line")
            .attr("y1", function(d, i) { return y(d - errs[i]); })
            .attr("y2", function(d, i) { return y(d + errs[i]); })
            .attr("stroke", col).attr("stroke-width", lw);
        bars.append("line").attr("x1", -2.2).attr("x2", 2.2)
            .attr("y1", function(d, i) { return y(d - errs[i]); })
            .attr("y2", function(d, i) { return y(d - errs[i]); })
            .attr("stroke", col).attr("stroke-width", lw);
        bars.append("line").attr("x1", -2.2).attr("x2", 2.2)
            .attr("y1", function(d, i) { return y(d + errs[i]); })
            .attr("y2", function(d, i) { return y(d + errs[i]); })
            .attr("stroke", col).attr("stroke-width", lw);
        g.append("path").datum(means)
            .attr("d", d3.line().x(function(d, i) { return x(onsetTimes[i]); }).y(function(d) { return y(d); }))
            .attr("fill", "none").attr("stroke", col).attr("stroke-width", 2.8);
        bars.append("circle").attr("cy", function(d) { return y(d); }).attr("r", r).attr("fill", col);
    };
    series(onsetGfp, onsetGfpErr, "#000", 2.3, 1.05);
    series(onsetArch, onsetArchErr, "#66f21e", 2.3, 1.05);

    thickAxis(d3.axisBottom(x).tickValues(timeTicks).tickFormat(String).tickSize(5).tickSizeOuter(0).tickPadding(4), 0, 842, 2, 12);
    thickAxis(d3.axisLeft(y).tickValues([0, 5, 10, 15]).tickSize(6).tickSizeOuter(0).tickPadding(2), 53, 0, 2, 13.5);
    label(177, 880, "Ultrasound Onsent (s)", 14.2, "bold", "middle");
    label(25, 757, "Speed\u00a0\u00a0\u00a0(pix/s)", 11.2, "bold", "middle", "#111", true);

    svg.append("line").attr("x1", 323).attr("x2", 342).attr("y1", 662).attr("y2", 662).attr("stroke", "#66f21e").attr("stroke-width", 2.5);
    svg.append("circle").attr("cx", 332).attr("cy", 662).attr("r", 2.5).attr("fill", "#66f21e");
    label(352, 667, "ArchT", 14.4, "normal", "start", "#222");
    svg.append("line").attr("x1", 323).attr("x2", 342).attr("y1", 685).attr("y2", 685).attr("stroke", "#000").attr("stroke-width", 2);
    svg.append("circle").attr("cx", 332).attr("cy", 685).attr("r", 2.5).attr("fill", "#000");
    label(352, 690, "GFP", 14.4, "normal", "start", "#222");
})();

// F
(function() {
    var x = d3.scaleBand().domain(maxGroups).range([462, 579]).paddingInner(.35).paddingOuter(.337);
    var y = d3.scaleLinear().domain([0, 40]).range([843, 668]);
    var w = x.bandwidth(), colors = ["#000", "#66ff00"];
    svg.append("g").selectAll("rect").data(maxMeans).enter().append("rect")
        .attr("x", function(d, i) { return x(maxGroups[i]) + 1.5; })
        .attr("y", function(d) { return y(d); })
        .attr("width", w - 3)
        .attr("height", function(d) { return y(0) - y(d); })
        .attr("fill", function(d, i) { return colors[i]; })
        .attr("stroke", "#000")
        .attr("stroke-width", 3);
    maxErrs.forEach(function(e, i) {
        var cx = x(maxGroups[i]) + w / 2;
        var col = i == 0 ? "#777" : "#222";
        svg.append("path")
            .attr("d", "M" + (cx - 8) + " " + y(maxMeans[i] + e) + "H" + (cx + 8) + "M" + cx + " " + y(maxMeans[i] + e) + "V" + y(maxMeans[i] - e) + "M" + (cx - 8) + " " + y(maxMeans[i] - e) + "H" + (cx + 8))
            .attr("fill", "none").attr("stroke", col).attr("stroke-width", 1);
    });
    [maxDotsGfp, maxDotsArch].forEach(function(dots, i) {
        var cx = x(maxGroups[i]) + w / 2;
        svg.append("g").selectAll("circle").data(dots).enter().append("circle")
            .attr("cx", function(d) { return cx + d[0] * w / 2; })
            .attr("cy", function(d) { return y(d[1]); })
            .attr("r", 1.8)
            .attr("fill", "#7d9a9a");
    });
    var ax = thickAxis(d3.axisBottom(x).tickSize(5).tickSizeOuter(0).tickPadding(6), 0, 843, 2, 13);
    ax.select("path").attr("d", "M0 0H118").attr("transform", "translate(462,0)");
    thickAxis(d3.axisLeft(y).tickValues([0, 10, 20, 30, 40]).tickSize(6).tickSizeOuter(0).tickPadding(2), 462, 0, 2, 13.5);
    svg.append("path")
        .attr("d", "M" + (x("GFP") + w / 2) + " " + y(24.2) + "V" + y(33.6) + "H" + (x("ArchT") + w / 2) + "V" + y(24.2))
        .attr("fill", "none").attr("stroke", "#111").attr("stroke-width", 2);
    label(520, 693, "*", 12, "bold", "middle");
    label(429, 755, "Max. Speed (pix/s)", 14, "bold", "middle", "#111", true);
})();
</script>
</body>
</html>
